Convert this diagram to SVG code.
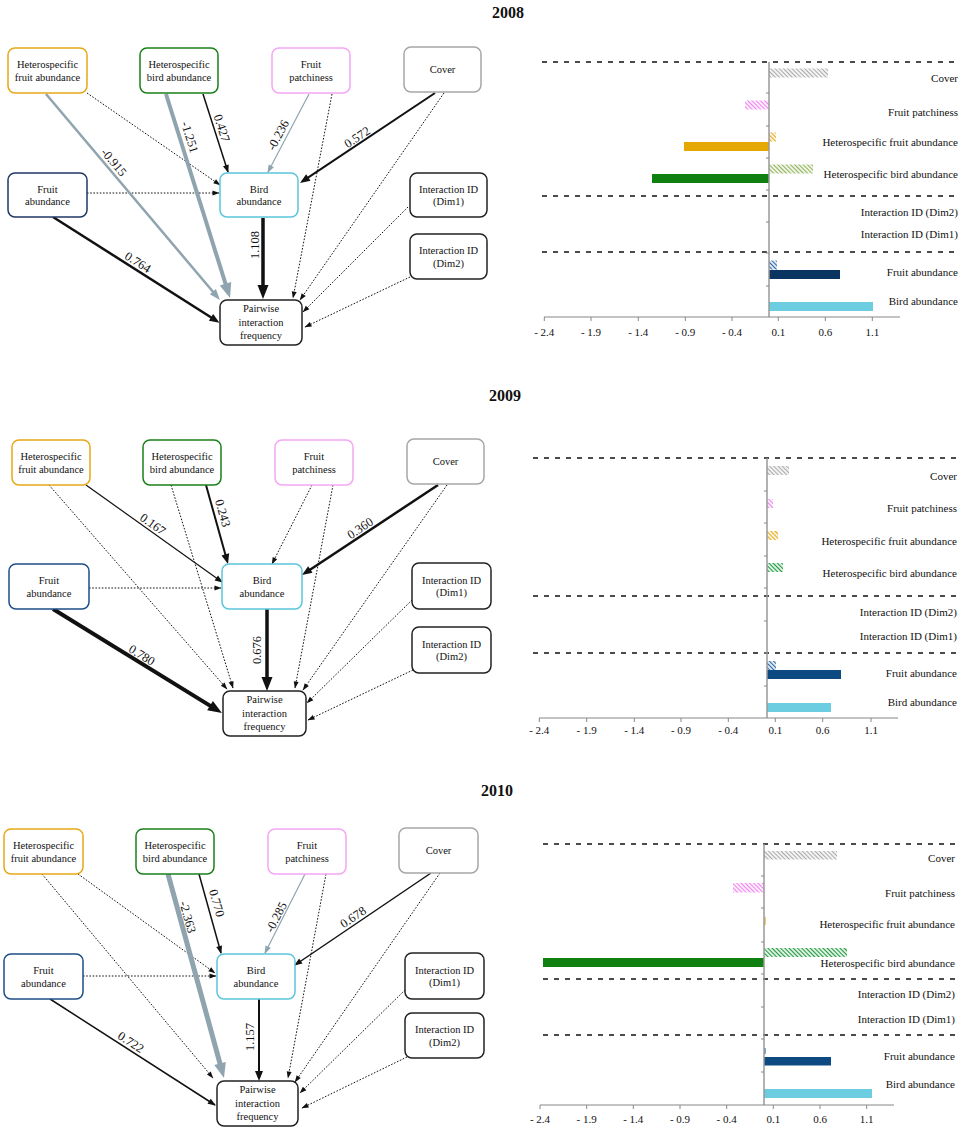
<svg xmlns="http://www.w3.org/2000/svg" width="964" height="1132" viewBox="0 0 964 1132">
<defs>
<style>
text{font-family:"Liberation Serif","Times New Roman",serif;fill:#111}
.nt{font-size:10.5px;text-anchor:middle}
.el{font-size:12.5px;text-anchor:middle}
.cl{font-size:11px;text-anchor:end}
.tk{font-size:11px;text-anchor:middle}
.ti{font-size:16px;font-weight:bold;text-anchor:middle}
.box{fill:#fff;stroke-width:1.5}
.dot{stroke:#111;stroke-width:1;stroke-dasharray:1.6 1.6;fill:none;marker-end:url(#mD)}
.bk{stroke:#111;fill:none}
.gr{stroke:#8fa4ae;fill:none}
.dash{stroke:#111;stroke-width:1.5;stroke-dasharray:5 6}
.vax{stroke:#999;stroke-width:1.5}
.hax{stroke:#888;stroke-width:1.2}
.tick{stroke:#888;stroke-width:1}
</style>
<marker id="mD" markerUnits="userSpaceOnUse" markerWidth="7" markerHeight="5" refX="6.5" refY="2.5" orient="auto" overflow="visible"><path d="M0,0 L7,2.5 L0,5z" fill="#111"/></marker>
<marker id="mS" markerUnits="userSpaceOnUse" markerWidth="8" markerHeight="6" refX="7" refY="3" orient="auto" overflow="visible"><path d="M0,0 L8,3 L0,6z" fill="#111"/></marker>
<marker id="mGS" markerUnits="userSpaceOnUse" markerWidth="8" markerHeight="6" refX="7" refY="3" orient="auto" overflow="visible"><path d="M0,0 L8,3 L0,6z" fill="#8fa4ae"/></marker>
<marker id="mM" markerUnits="userSpaceOnUse" markerWidth="10" markerHeight="8" refX="4" refY="4" orient="auto" overflow="visible"><path d="M0,0 L10,4 L0,8z" fill="#111"/></marker>
<marker id="mL" markerUnits="userSpaceOnUse" markerWidth="14" markerHeight="11" refX="5.6" refY="5.5" orient="auto" overflow="visible"><path d="M0,0 L14,5.5 L0,11z" fill="#111"/></marker>
<marker id="mGM" markerUnits="userSpaceOnUse" markerWidth="11" markerHeight="8" refX="4.4" refY="4" orient="auto" overflow="visible"><path d="M0,0 L11,4 L0,8z" fill="#8fa4ae"/></marker>
<marker id="mGL" markerUnits="userSpaceOnUse" markerWidth="15" markerHeight="12" refX="6" refY="6" orient="auto" overflow="visible"><path d="M0,0 L15,6 L0,12z" fill="#8fa4ae"/></marker>
<pattern id="hGray" patternUnits="userSpaceOnUse" width="3" height="3" patternTransform="rotate(-45)"><line x1="1.5" y1="0" x2="1.5" y2="3" stroke="#aaa" stroke-width="1.3"/></pattern>
<pattern id="hPink" patternUnits="userSpaceOnUse" width="3" height="3" patternTransform="rotate(-45)"><line x1="1.5" y1="0" x2="1.5" y2="3" stroke="#ee82ee" stroke-width="1.3"/></pattern>
<pattern id="hOrange" patternUnits="userSpaceOnUse" width="3" height="3" patternTransform="rotate(-45)"><line x1="1.5" y1="0" x2="1.5" y2="3" stroke="#e6a817" stroke-width="1.3"/></pattern>
<pattern id="hOlive" patternUnits="userSpaceOnUse" width="3" height="3" patternTransform="rotate(-45)"><line x1="1.5" y1="0" x2="1.5" y2="3" stroke="#8fb35a" stroke-width="1.3"/></pattern>
<pattern id="hGreen" patternUnits="userSpaceOnUse" width="3" height="3" patternTransform="rotate(-45)"><line x1="1.5" y1="0" x2="1.5" y2="3" stroke="#1f9a3e" stroke-width="1.3"/></pattern>
<pattern id="hBlue" patternUnits="userSpaceOnUse" width="3" height="3" patternTransform="rotate(-45)"><line x1="1.5" y1="0" x2="1.5" y2="3" stroke="#2e6aa6" stroke-width="1.3"/></pattern>
</defs>
<rect width="964" height="1132" fill="#fff"/>

<text class="ti" x="508" y="18">2008</text>
<text class="ti" x="505" y="401">2009</text>
<text class="ti" x="497" y="796">2010</text>

<!-- ===== 2008 connectors ===== -->
<g id="connectors-2008">
<line class="dot" x1="87" y1="93" x2="220" y2="185"/>
<line class="dot" x1="87" y1="193" x2="219" y2="193"/>
<line class="dot" x1="332" y1="94" x2="293" y2="298"/>
<line class="dot" x1="444" y1="93" x2="300" y2="300"/>
<line class="dot" x1="408" y1="207" x2="303" y2="312"/>
<line class="dot" x1="410" y1="277" x2="305" y2="327"/>
<line class="gr" stroke-width="2.5" marker-end="url(#mGM)" x1="46" y1="94" x2="215.7" y2="295"/>
<line class="gr" stroke-width="4" marker-end="url(#mGL)" x1="166" y1="94" x2="227.3" y2="289.4"/>
<line class="bk" stroke-width="1.5" marker-end="url(#mS)" x1="203" y1="94" x2="228" y2="172"/>
<line class="gr" stroke-width="1.2" marker-end="url(#mGS)" x1="309" y1="94" x2="268" y2="172"/>
<line class="bk" stroke-width="2" marker-end="url(#mM)" x1="435" y1="93" x2="305" y2="179.7"/>
<line class="bk" stroke-width="2.5" marker-end="url(#mM)" x1="53" y1="217" x2="214.4" y2="319.5"/>
<line class="bk" stroke-width="3.5" marker-end="url(#mL)" x1="263" y1="218" x2="263" y2="290.6"/>
<text class="el" transform="translate(114,162) rotate(49.8)" dy="0.35em">-0.915</text>
<text class="el" transform="translate(190,137) rotate(72.6)" dy="0.35em">-1.251</text>
<text class="el" transform="translate(222,128) rotate(72.2)" dy="0.35em">0.427</text>
<text class="el" transform="translate(278,135) rotate(-62.3)" dy="0.35em">-0.236</text>
<text class="el" transform="translate(357,137) rotate(-33.7)" dy="0.35em">0.572</text>
<text class="el" transform="translate(138,262) rotate(32.4)" dy="0.35em">0.764</text>
<text class="el" transform="translate(255,245) rotate(-90)" dy="0.35em">1.108</text>
</g>

<!-- ===== 2008 nodes ===== -->
<g id="n2008-hetfruit"><rect class="box" x="8" y="48" width="79" height="45" rx="7" stroke="#e6a817"/><text class="nt" x="47.5" y="68">Heterospecific</text><text class="nt" x="47.5" y="80.5">fruit abundance</text></g>
<g id="n2008-hetbird"><rect class="box" x="140" y="48" width="78" height="45" rx="7" stroke="#1a801a"/><text class="nt" x="179" y="68">Heterospecific</text><text class="nt" x="179" y="80.5">bird abundance</text></g>
<g id="n2008-patch"><rect class="box" x="272" y="48" width="78" height="45" rx="7" stroke="#f4a6f4"/><text class="nt" x="311" y="68">Fruit</text><text class="nt" x="311" y="80.5">patchiness</text></g>
<g id="n2008-cover"><rect class="box" x="404" y="47" width="77" height="45" rx="7" stroke="#a6a6a6"/><text class="nt" x="442.5" y="73">Cover</text></g>
<g id="n2008-fruitab"><rect class="box" x="8" y="173" width="79" height="44" rx="7" stroke="#1f3864"/><text class="nt" x="47.5" y="192.5">Fruit</text><text class="nt" x="47.5" y="205">abundance</text></g>
<g id="n2008-birdab"><rect class="box" x="220" y="173" width="78" height="44" rx="7" stroke="#5bc5dc"/><text class="nt" x="259" y="192.5">Bird</text><text class="nt" x="259" y="205">abundance</text></g>
<g id="n2008-dim1"><rect class="box" x="410" y="173" width="77" height="44" rx="7" stroke="#222"/><text class="nt" x="448.5" y="192.5">Interaction ID</text><text class="nt" x="448.5" y="205">(Dim1)</text></g>
<g id="n2008-dim2"><rect class="box" x="410" y="234" width="77" height="45" rx="7" stroke="#222"/><text class="nt" x="448.5" y="254">Interaction ID</text><text class="nt" x="448.5" y="266.5">(Dim2)</text></g>
<g id="n2008-pif"><rect class="box" x="220" y="300" width="82" height="45" rx="7" stroke="#222"/><text class="nt" x="261" y="311.5">Pairwise</text><text class="nt" x="261" y="325.5">interaction</text><text class="nt" x="261" y="339">frequency</text></g>

<!-- ===== 2008 chart ===== -->
<g id="chart-2008">
<line class="dash" x1="542" y1="62" x2="958" y2="62"/>
<line class="dash" x1="542" y1="196" x2="958" y2="196"/>
<line class="dash" x1="542" y1="252" x2="958" y2="252"/>
<rect x="769" y="68.5" width="59" height="9" fill="url(#hGray)"/>
<rect x="745" y="100.5" width="24" height="9" fill="url(#hPink)"/>
<rect x="769" y="132.5" width="7" height="9" fill="url(#hOrange)"/>
<rect x="684" y="142" width="85" height="9" fill="#e5a800"/>
<rect x="769" y="164.5" width="44" height="9" fill="url(#hOlive)"/>
<rect x="652" y="174" width="117" height="9" fill="#108010"/>
<rect x="769" y="260.5" width="8" height="9" fill="url(#hBlue)"/>
<rect x="769" y="270" width="71" height="9" fill="#0a3560"/>
<rect x="769" y="302" width="104" height="9" fill="#6dcde0"/>
<line class="vax" x1="769" y1="62" x2="769" y2="317"/>
<path class="tick" d="M766,93H769M766,126H769M766,158H769M766,190H769M766,222H769M766,253H769M766,286H769"/>
<line class="hax" x1="544" y1="317" x2="900" y2="317"/>
<path class="tick" d="M544.3,317V321M591,317V321M638.3,317V321M685.3,317V321M732,317V321M778.3,317V321M825.3,317V321M872.3,317V321"/>
<text class="tk" x="544.3" y="336">- 2.4</text><text class="tk" x="591" y="336">- 1.9</text><text class="tk" x="638.3" y="336">- 1.4</text><text class="tk" x="685.3" y="336">- 0.9</text><text class="tk" x="732" y="336">- 0.4</text><text class="tk" x="778.3" y="336">0.1</text><text class="tk" x="825.3" y="336">0.6</text><text class="tk" x="872.3" y="336">1.1</text>
<text class="cl" x="958" y="82">Cover</text>
<text class="cl" x="958" y="116">Fruit patchiness</text>
<text class="cl" x="958" y="146">Heterospecific fruit abundance</text>
<text class="cl" x="958" y="178">Heterospecific bird abundance</text>
<text class="cl" x="958" y="216">Interaction ID (Dim2)</text>
<text class="cl" x="958" y="238">Interaction ID (Dim1)</text>
<text class="cl" x="958" y="276">Fruit abundance</text>
<text class="cl" x="958" y="305">Bird abundance</text>
</g>

<!-- ===== 2009 connectors ===== -->
<g id="connectors-2009">
<line class="dot" x1="49" y1="485" x2="227" y2="689"/>
<line class="dot" x1="171" y1="485" x2="233" y2="688"/>
<line class="dot" x1="312" y1="485" x2="272" y2="564"/>
<line class="dot" x1="333" y1="485" x2="295" y2="688"/>
<line class="dot" x1="447" y1="485" x2="303" y2="690"/>
<line class="dot" x1="89" y1="588" x2="221" y2="588"/>
<line class="dot" x1="412" y1="600" x2="307" y2="703"/>
<line class="dot" x1="413" y1="670" x2="308" y2="720"/>
<line class="bk" stroke-width="1.2" marker-end="url(#mS)" x1="86" y1="485" x2="222" y2="582"/>
<line class="bk" stroke-width="2" marker-end="url(#mM)" x1="206" y1="485" x2="226.4" y2="558.2"/>
<line class="bk" stroke-width="2.5" marker-end="url(#mM)" x1="438" y1="485" x2="307" y2="571.7"/>
<line class="bk" stroke-width="4" marker-end="url(#mL)" x1="53" y1="609" x2="214.8" y2="708.6"/>
<line class="bk" stroke-width="3.5" marker-end="url(#mL)" x1="267" y1="609" x2="267" y2="682.6"/>
<text class="el" transform="translate(153,524) rotate(35.5)" dy="0.35em">0.167</text>
<text class="el" transform="translate(223,513) rotate(74.4)" dy="0.35em">0.243</text>
<text class="el" transform="translate(360,528) rotate(-33.5)" dy="0.35em">0.360</text>
<text class="el" transform="translate(142,655) rotate(31.6)" dy="0.35em">0.780</text>
<text class="el" transform="translate(257,650) rotate(-90)" dy="0.35em">0.676</text>
</g>

<!-- ===== 2009 nodes ===== -->
<g id="n2009-hetfruit"><rect class="box" x="12" y="440" width="78" height="45" rx="7" stroke="#e6a817"/><text class="nt" x="51" y="460">Heterospecific</text><text class="nt" x="51" y="472.5">fruit abundance</text></g>
<g id="n2009-hetbird"><rect class="box" x="143" y="440" width="78" height="45" rx="7" stroke="#1a801a"/><text class="nt" x="182" y="460">Heterospecific</text><text class="nt" x="182" y="472.5">bird abundance</text></g>
<g id="n2009-patch"><rect class="box" x="275" y="440" width="78" height="45" rx="7" stroke="#f4a6f4"/><text class="nt" x="314" y="460">Fruit</text><text class="nt" x="314" y="472.5">patchiness</text></g>
<g id="n2009-cover"><rect class="box" x="407" y="439" width="77" height="45" rx="7" stroke="#a6a6a6"/><text class="nt" x="445.5" y="465">Cover</text></g>
<g id="n2009-fruitab"><rect class="box" x="9" y="564" width="80" height="45" rx="7" stroke="#1f4e85"/><text class="nt" x="49" y="584">Fruit</text><text class="nt" x="49" y="596.5">abundance</text></g>
<g id="n2009-birdab"><rect class="box" x="222" y="564" width="80" height="45" rx="7" stroke="#5bc5dc"/><text class="nt" x="262" y="584">Bird</text><text class="nt" x="262" y="596.5">abundance</text></g>
<g id="n2009-dim1"><rect class="box" x="412" y="563" width="79" height="46" rx="7" stroke="#222"/><text class="nt" x="451.5" y="583.5">Interaction ID</text><text class="nt" x="451.5" y="596">(Dim1)</text></g>
<g id="n2009-dim2"><rect class="box" x="412" y="627" width="79" height="46" rx="7" stroke="#222"/><text class="nt" x="451.5" y="647.5">Interaction ID</text><text class="nt" x="451.5" y="660">(Dim2)</text></g>
<g id="n2009-pif"><rect class="box" x="223" y="691" width="83" height="45" rx="7" stroke="#222"/><text class="nt" x="264.5" y="702.5">Pairwise</text><text class="nt" x="264.5" y="716.5">interaction</text><text class="nt" x="264.5" y="730">frequency</text></g>

<!-- ===== 2009 chart ===== -->
<g id="chart-2009">
<line class="dash" x1="533" y1="458" x2="957" y2="458"/>
<line class="dash" x1="533" y1="596" x2="957" y2="596"/>
<line class="dash" x1="533" y1="653" x2="957" y2="653"/>
<rect x="767" y="466" width="22" height="9" fill="url(#hGray)"/>
<rect x="767" y="499" width="6" height="9" fill="url(#hPink)"/>
<rect x="767" y="531" width="11" height="9" fill="url(#hOrange)"/>
<rect x="767" y="563" width="16" height="9" fill="url(#hGreen)"/>
<rect x="767" y="661" width="9" height="9" fill="url(#hBlue)"/>
<rect x="767" y="670" width="74" height="9" fill="#0d4a82"/>
<rect x="767" y="703" width="64" height="9" fill="#6dcde0"/>
<line class="vax" x1="767" y1="458" x2="767" y2="718"/>
<path class="tick" d="M764,491H767M764,523H767M764,556H767M764,588H767M764,621H767M764,653H767M764,686H767"/>
<line class="hax" x1="539" y1="718" x2="898" y2="718"/>
<path class="tick" d="M539.3,718V722M586.7,718V722M634.3,718V722M681,718V722M728.3,718V722M775.3,718V722M822.7,718V722M871,718V722"/>
<text class="tk" x="539.3" y="734">- 2.4</text><text class="tk" x="586.7" y="734">- 1.9</text><text class="tk" x="634.3" y="734">- 1.4</text><text class="tk" x="681" y="734">- 0.9</text><text class="tk" x="728.3" y="734">- 0.4</text><text class="tk" x="775.3" y="734">0.1</text><text class="tk" x="822.7" y="734">0.6</text><text class="tk" x="871" y="734">1.1</text>
<text class="cl" x="957" y="480">Cover</text>
<text class="cl" x="957" y="512">Fruit patchiness</text>
<text class="cl" x="957" y="545">Heterospecific fruit abundance</text>
<text class="cl" x="957" y="577">Heterospecific bird abundance</text>
<text class="cl" x="957" y="616">Interaction ID (Dim2)</text>
<text class="cl" x="957" y="640">Interaction ID (Dim1)</text>
<text class="cl" x="957" y="677">Fruit abundance</text>
<text class="cl" x="957" y="706">Bird abundance</text>
</g>

<!-- ===== 2010 connectors ===== -->
<g id="connectors-2010">
<line class="dot" x1="42" y1="874" x2="213" y2="1078"/>
<line class="dot" x1="78" y1="874" x2="215" y2="973"/>
<line class="dot" x1="326" y1="874" x2="288" y2="1078"/>
<line class="dot" x1="440" y1="873" x2="295" y2="1082"/>
<line class="dot" x1="83" y1="976" x2="216" y2="976"/>
<line class="dot" x1="405" y1="990" x2="300" y2="1093"/>
<line class="dot" x1="407" y1="1057" x2="302" y2="1108"/>
<line class="gr" stroke-width="5" marker-end="url(#mGL)" x1="168" y1="874" x2="221.6" y2="1069.3"/>
<line class="bk" stroke-width="1.5" marker-end="url(#mS)" x1="199" y1="874" x2="221" y2="953"/>
<line class="gr" stroke-width="1.2" marker-end="url(#mGS)" x1="305" y1="874" x2="265" y2="953"/>
<line class="bk" stroke-width="1.5" marker-end="url(#mS)" x1="431" y1="873" x2="295" y2="965"/>
<line class="bk" stroke-width="1.5" marker-end="url(#mS)" x1="50" y1="999" x2="215" y2="1105"/>
<line class="bk" stroke-width="2" marker-end="url(#mM)" x1="259" y1="999" x2="259" y2="1075"/>
<text class="el" transform="translate(188,917) rotate(74.6)" dy="0.35em">-2.363</text>
<text class="el" transform="translate(217,903) rotate(74.4)" dy="0.35em">0.770</text>
<text class="el" transform="translate(276,917) rotate(-63.1)" dy="0.35em">-0.285</text>
<text class="el" transform="translate(353,917) rotate(-34.1)" dy="0.35em">0.678</text>
<text class="el" transform="translate(131,1042) rotate(32.7)" dy="0.35em">0.722</text>
<text class="el" transform="translate(250,1037) rotate(-90)" dy="0.35em">1.157</text>
</g>

<!-- ===== 2010 nodes ===== -->
<g id="n2010-hetfruit"><rect class="box" x="4" y="829" width="79" height="45" rx="7" stroke="#e6a817"/><text class="nt" x="43.5" y="849">Heterospecific</text><text class="nt" x="43.5" y="861.5">fruit abundance</text></g>
<g id="n2010-hetbird"><rect class="box" x="136" y="829" width="78" height="45" rx="7" stroke="#1a801a"/><text class="nt" x="175" y="849">Heterospecific</text><text class="nt" x="175" y="861.5">bird abundance</text></g>
<g id="n2010-patch"><rect class="box" x="268" y="829" width="78" height="45" rx="7" stroke="#f4a6f4"/><text class="nt" x="307" y="849">Fruit</text><text class="nt" x="307" y="861.5">patchiness</text></g>
<g id="n2010-cover"><rect class="box" x="399" y="828" width="79" height="45" rx="7" stroke="#a6a6a6"/><text class="nt" x="438.5" y="854">Cover</text></g>
<g id="n2010-fruitab"><rect class="box" x="4" y="954" width="79" height="45" rx="7" stroke="#1f4e85"/><text class="nt" x="43.5" y="974">Fruit</text><text class="nt" x="43.5" y="986.5">abundance</text></g>
<g id="n2010-birdab"><rect class="box" x="217" y="954" width="78" height="45" rx="7" stroke="#5bc5dc"/><text class="nt" x="256" y="974">Bird</text><text class="nt" x="256" y="986.5">abundance</text></g>
<g id="n2010-dim1"><rect class="box" x="405" y="953" width="79" height="46" rx="7" stroke="#222"/><text class="nt" x="444.5" y="973.5">Interaction ID</text><text class="nt" x="444.5" y="986">(Dim1)</text></g>
<g id="n2010-dim2"><rect class="box" x="405" y="1013" width="79" height="45" rx="7" stroke="#222"/><text class="nt" x="444.5" y="1033">Interaction ID</text><text class="nt" x="444.5" y="1045.5">(Dim2)</text></g>
<g id="n2010-pif"><rect class="box" x="217" y="1081" width="81" height="45" rx="7" stroke="#222"/><text class="nt" x="257.5" y="1092.5">Pairwise</text><text class="nt" x="257.5" y="1106.5">interaction</text><text class="nt" x="257.5" y="1120">frequency</text></g>

<!-- ===== 2010 chart ===== -->
<g id="chart-2010">
<line class="dash" x1="543" y1="844" x2="955" y2="844"/>
<line class="dash" x1="543" y1="979" x2="955" y2="979"/>
<line class="dash" x1="543" y1="1035" x2="955" y2="1035"/>
<rect x="764" y="851" width="73" height="8.5" fill="url(#hGray)"/>
<rect x="733" y="883" width="31" height="9.5" fill="url(#hPink)"/>
<rect x="764" y="917" width="2" height="8" fill="#e6a817" opacity="0.6"/>
<rect x="764" y="948" width="83" height="9" fill="url(#hGreen)"/>
<rect x="543" y="958" width="221" height="9" fill="#108010"/>
<rect x="764" y="1048" width="2" height="6" fill="#2e6aa6" opacity="0.6"/>
<rect x="764" y="1057" width="67" height="8.5" fill="#0d4a82"/>
<rect x="764" y="1089" width="108" height="9" fill="#6dcde0"/>
<line class="vax" x1="764" y1="844" x2="764" y2="1105"/>
<path class="tick" d="M761,876H764M761,908H764M761,942H764M761,974H764M761,1007H764M761,1039H764M761,1072H764"/>
<line class="hax" x1="540" y1="1105" x2="894" y2="1105"/>
<path class="tick" d="M540,1105V1109M586.7,1105V1109M633.3,1105V1109M680,1105V1109M726.7,1105V1109M773.3,1105V1109M820,1105V1109M866.7,1105V1109"/>
<text class="tk" x="540" y="1123">- 2.4</text><text class="tk" x="586.7" y="1123">- 1.9</text><text class="tk" x="633.3" y="1123">- 1.4</text><text class="tk" x="680" y="1123">- 0.9</text><text class="tk" x="726.7" y="1123">- 0.4</text><text class="tk" x="773.3" y="1123">0.1</text><text class="tk" x="820" y="1123">0.6</text><text class="tk" x="866.7" y="1123">1.1</text>
<text class="cl" x="955" y="862">Cover</text>
<text class="cl" x="955" y="897">Fruit patchiness</text>
<text class="cl" x="955" y="928">Heterospecific fruit abundance</text>
<text class="cl" x="955" y="967">Heterospecific bird abundance</text>
<text class="cl" x="955" y="998">Interaction ID (Dim2)</text>
<text class="cl" x="955" y="1023">Interaction ID (Dim1)</text>
<text class="cl" x="955" y="1060">Fruit abundance</text>
<text class="cl" x="955" y="1088">Bird abundance</text>
</g>
</svg>
